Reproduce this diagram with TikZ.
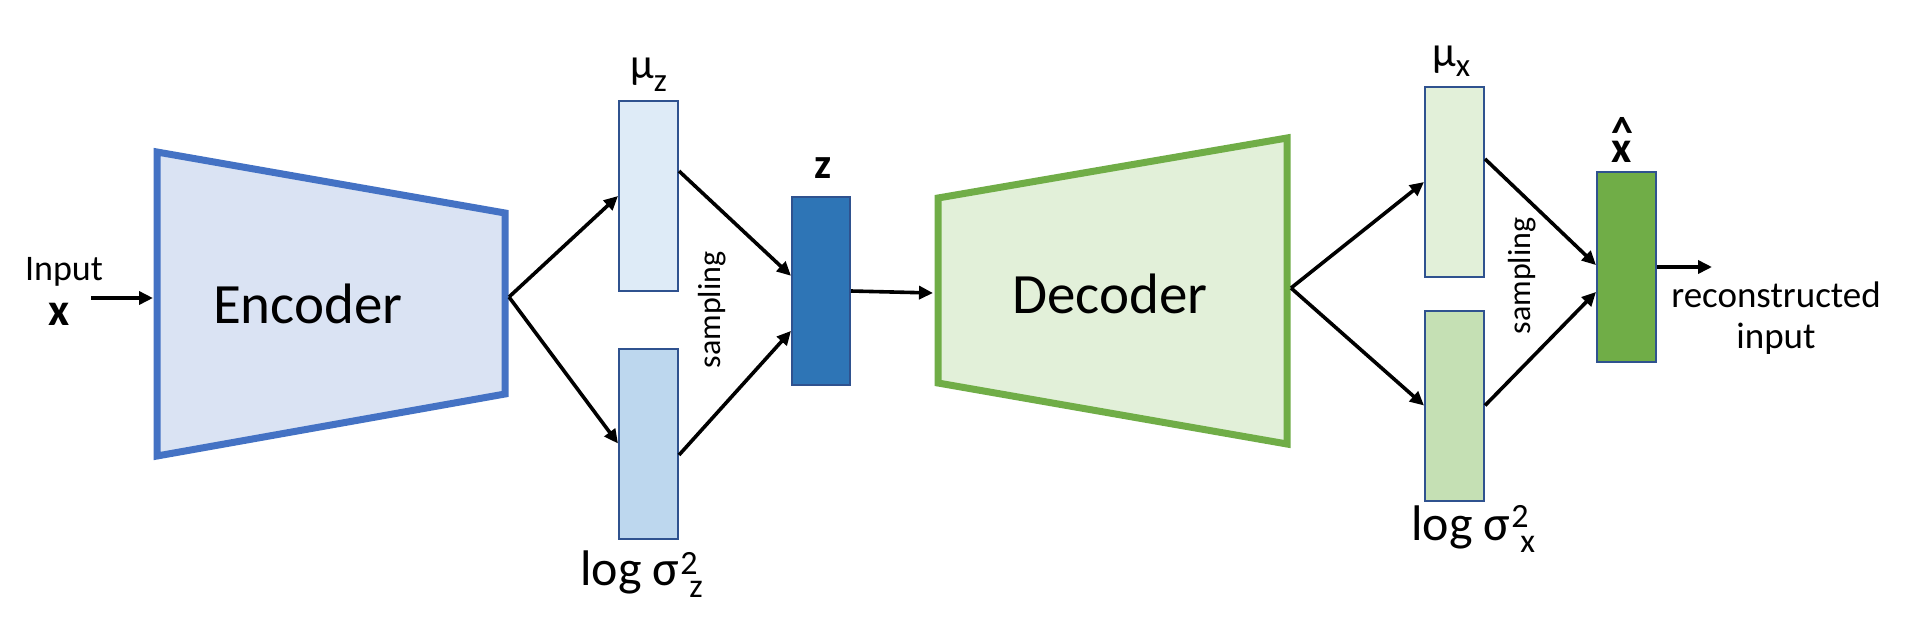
\documentclass[tikz,border=0pt]{standalone}
\usepackage{fontspec}
\setmainfont{Carlito}
\usetikzlibrary{arrows.meta,calc}
\definecolor{encfill}{HTML}{DAE3F3}
\definecolor{encline}{HTML}{4472C4}
\definecolor{decfill}{HTML}{E2F0D9}
\definecolor{decline}{HTML}{70AD47}
\definecolor{boxline}{HTML}{2F528F}
\definecolor{muzfill}{HTML}{DEEBF7}
\definecolor{sigzfill}{HTML}{BDD7EE}
\definecolor{zfill}{HTML}{2E75B6}
\definecolor{muxfill}{HTML}{E2F0D9}
\definecolor{sigxfill}{HTML}{C5E0B4}
\definecolor{xhfill}{HTML}{70AD47}
\newcommand{\fsz}[1]{\fontsize{#1}{#1}\selectfont}
\begin{document}
\begin{tikzpicture}[x=1pt,y=-1pt,
  vbox/.style={draw=boxline, line width=2pt, minimum width=59pt, minimum height=190pt, inner sep=0pt},
  conn/.style={line width=3.6pt, -{Triangle[length=14pt,width=13pt]}},
  txt/.style={inner sep=0pt, anchor=base},
  trap/.style={line width=7pt, line join=miter}]
\useasboundingbox (0,0) rectangle (1918,632);
\fill[white] (0,0) rectangle (1918,632);
% trapezoids
\draw[trap, draw=encline, fill=encfill] (157,152) -- (505,213) -- (505,394) -- (157,456) -- cycle;
\draw[trap, draw=decline, fill=decfill] (938,198) -- (1287,138) -- (1287,444) -- (938,383) -- cycle;
\node[txt, font=\fsz{57}] (enc) at (308,323) {Encoder};
\node[txt, font=\fsz{57}] (dec) at (1110,313) {Decoder};
\coordinate (encin) at (153,298);
\coordinate (enctip) at (509,297);
\coordinate (decin) at (933,293);
\coordinate (dectip) at (1291,288);
\coordinate (instart) at (91,298);
\coordinate (outend) at (1712,267);
% boxes
\node[vbox, fill=muzfill] (muz) at (648.5,196) {};
\node[vbox, fill=sigzfill] (sigz) at (648.5,443.5) {};
\node[vbox, fill=zfill, minimum width=58pt, minimum height=188pt] (zz) at (821,291) {};
\node[vbox, fill=muxfill] (mux) at (1454.5,182) {};
\node[vbox, fill=sigxfill] (sigx) at (1454.5,405.5) {};
\node[vbox, fill=xhfill] (xh) at (1626.5,267) {};
% connectors
\draw[conn] (instart) -- (encin);
\draw[conn] (enctip) -- (muz.west);
\draw[conn] (enctip) -- (sigz.west);
\draw[conn] ($(muz.north east)!0.37!(muz.south east)$) -- ($(zz.north west)!0.42!(zz.south west)$);
\draw[conn] ($(sigz.north east)!0.56!(sigz.south east)$) -- ($(zz.north west)!0.71!(zz.south west)$);
\draw[conn] (zz.east) -- (decin);
\draw[conn] (dectip) -- (mux.west);
\draw[conn] (dectip) -- (sigx.west);
\draw[conn] ($(mux.north east)!0.38!(mux.south east)$) -- ($(xh.north west)!0.49!(xh.south west)$);
\draw[conn] (sigx.east) -- ($(xh.north west)!0.63!(xh.south west)$);
\draw[conn] (xh.east) -- (outend);
% labels
\node[txt, font=\fsz{36}] (inlbl) at (64,280) {Input};
\node[txt, font=\fsz{46}\bfseries] (inx) at (59,325) {x};
\node[txt, font=\fsz{43}\bfseries] (zlbl) at (823,178) {z};
\node[txt, font=\fsz{44}\bfseries] (xhlbl) at (1622,162) {\rlap{\raisebox{15pt}{\textasciicircum}}x};
\node[txt, anchor=base west, font=\fsz{43}] (muzlbl) at (630,78) {μ\raisebox{-13pt}{\fsz{33}z}};
\node[txt, anchor=base west, font=\fsz{43}] (muxlbl) at (1432,66) {μ\raisebox{-10pt}{\fsz{33}x}};
\node[txt, anchor=base west, font=\fsz{50}] (sigzlbl) at (580,585) {log σ\kern1pt\rlap{\raisebox{11pt}{\fsz{34}2}}\kern9pt\raisebox{-12pt}{\fsz{34}z}};
\node[txt, anchor=base west, font=\fsz{50}] (sigxlbl) at (1411,540) {log σ\kern1pt\rlap{\raisebox{13pt}{\fsz{34}2}}\kern9pt\raisebox{-12pt}{\fsz{34}x}};
\node[font=\fsz{32}, rotate=90, inner sep=0pt] (samp1) at (712,310) {sampling};
\node[font=\fsz{32}, rotate=90, inner sep=0pt] (samp2) at (1522,276) {sampling};
\node[txt, font=\fontsize{37}{41}\selectfont] (reclbl) at (1776,307) {\begin{tabular}[t]{@{}c@{}}reconstructed\\input\end{tabular}};
\end{tikzpicture}
\end{document}
